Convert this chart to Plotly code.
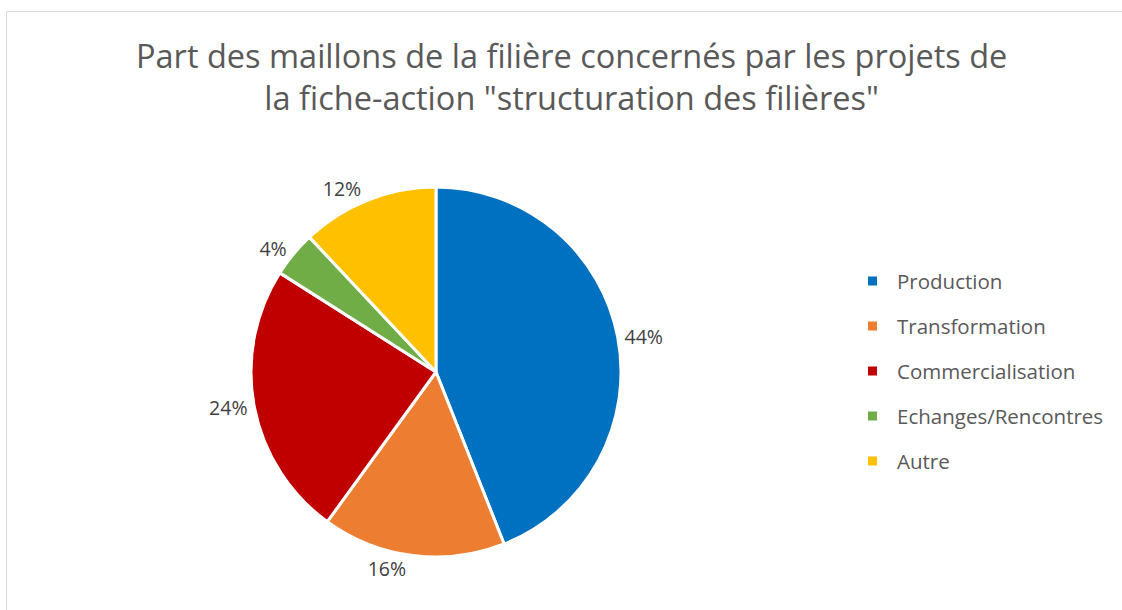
import plotly.graph_objects as go

categories = ["Production", "Transformation", "Commercialisation", "Echanges/Rencontres", "Autre"]
values = [44, 16, 24, 4, 12]
colors = ["#0070C0", "#ED7D31", "#C00000", "#70AD47", "#FFC000"]
title_text = 'Part des maillons de la filière concernés par les projets de<br>la fiche-action "structuration des filières"'

W, H = 1122, 610
FONT = "Open Sans"

def px_x(x):
    return x / W

def px_y(y):
    return 1 - y / H

cx, cy, r = 436, 372, 185

fig = go.Figure()
fig.add_trace(go.Pie(
    labels=categories,
    values=values,
    marker=dict(colors=colors, line=dict(color="white", width=3)),
    sort=False,
    direction="clockwise",
    rotation=0,
    textinfo="percent",
    textposition="outside",
    texttemplate="%{percent:.0%}",
    textfont=dict(family=FONT, size=19.5, color="#404040"),
    showlegend=False,
    domain=dict(x=[px_x(cx - r), px_x(cx + r)], y=[px_y(cy + r), px_y(cy - r)]),
    hoverinfo="label+percent",
))

border = dict(color="#D9D9D9", width=1)
shapes = [
    dict(type="line", xref="paper", yref="paper",
         x0=px_x(6.5), x1=1, y0=px_y(11.5), y1=px_y(11.5), line=border),
    dict(type="line", xref="paper", yref="paper",
         x0=px_x(6.5), x1=px_x(6.5), y0=0, y1=px_y(11.5), line=border),
]
annotations = [dict(text=title_text, xref="paper", yref="paper",
                    x=px_x(571), y=px_y(76), xanchor="center", yanchor="middle",
                    showarrow=False, align="center",
                    font=dict(family=FONT, size=32.5, color="#595959"))]
leg_x_sq, leg_x_txt, leg_y0, leg_dy = 872.5, 895, 281, 45
for i, (cat, col) in enumerate(zip(categories, colors)):
    yy = leg_y0 + i * leg_dy
    shapes.append(dict(type="rect", xref="paper", yref="paper",
                       x0=px_x(leg_x_sq - 4.5), x1=px_x(leg_x_sq + 4.5),
                       y0=px_y(yy + 4.5), y1=px_y(yy - 4.5),
                       fillcolor=col, line=dict(width=0)))
    annotations.append(dict(text=cat, xref="paper", yref="paper",
                            x=px_x(leg_x_txt), y=px_y(yy), xanchor="left", yanchor="middle",
                            showarrow=False, font=dict(family=FONT, size=20.5, color="#595959")))

fig.update_layout(
    width=W, height=H, autosize=False,
    margin=dict(l=0, r=0, t=0, b=0),
    paper_bgcolor="white", plot_bgcolor="white",
    shapes=shapes,
    annotations=annotations,
)

fig.write_html("out.html", config={"displayModeBar": False},
               post_script="document.body.style.margin='0px';document.body.style.overflow='hidden';")
